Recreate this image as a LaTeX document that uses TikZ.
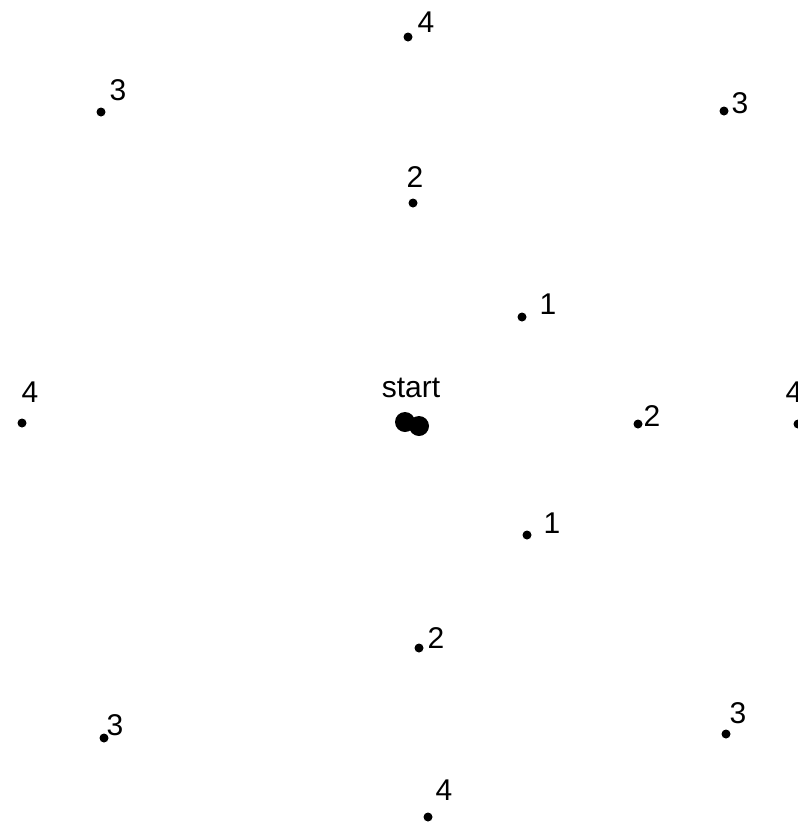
\documentclass[tikz,border=0pt]{standalone}
\usepackage{fontspec}
\setmainfont{Liberation Sans}
\begin{document}
\begin{tikzpicture}[x=1pt, y=-1pt, font=\fontsize{30}{34}\selectfont,
          spot/.style={circle, fill=black, inner sep=0pt, minimum size=9pt},
          startspot/.style={circle, fill=black, inner sep=0pt, minimum size=20pt},
          steplabel/.style={inner sep=0pt}]
        \useasboundingbox (0,0) rectangle (798,825);
        \foreach \nm/\dx/\dy/\lx/\ly/\txt in {
            ta/408/37/426/22/4, tb/101/112/118/90/3, tc/724/111/740/103/3,
            td/413/203/415/177/2, te/522/317/548/304/1,
            ma/22/423/30/392/4, mb/638/424/652/416/2, mc/798/424/794/392/4,
            ba/527/535/552/523/1, bb/419/648/436/638/2, bc/104/738/115/725/3,
            bd/726/734/738/713/3, be/428/817/444/790/4} {
          \node[spot] (dot-\nm) at (\dx,\dy) {};
          \node[steplabel] (lab-\nm) at (\lx,\ly) {\txt};
        }
        \node[startspot] (start1) at (405,422) {};
        \node[startspot] (start2) at (419,426) {};
        \node[steplabel] (startlab) at (411,388) {start};
      \end{tikzpicture}
\end{document}
